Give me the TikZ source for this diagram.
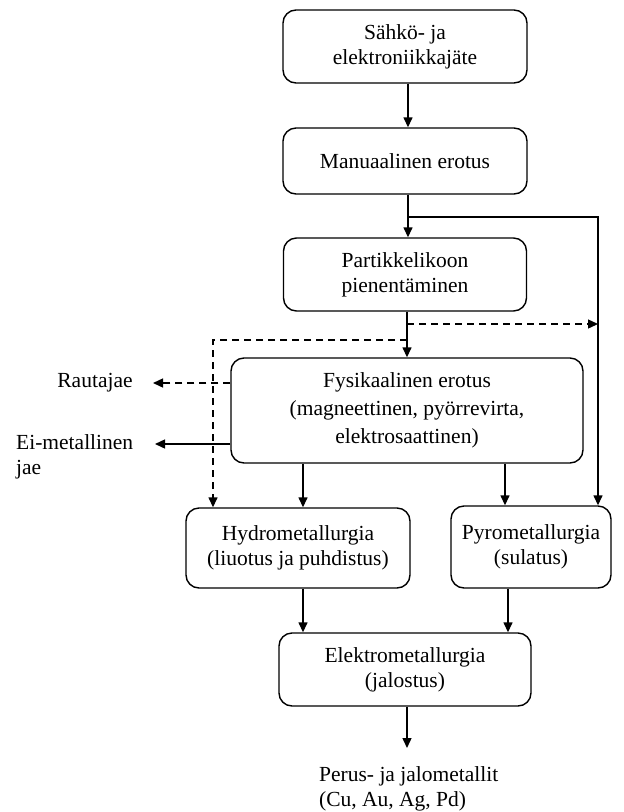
\documentclass[tikz,border=0pt]{standalone}
\usepackage{fontspec}
\setmainfont{Liberation Serif}
\usetikzlibrary{arrows.meta}
\begin{document}
\begin{tikzpicture}[x=1pt,y=-1pt,
  box/.style={draw,line width=1.4pt,rounded corners=13pt,align=center,inner sep=0pt,
    font=\fontsize{21.5}{25}\selectfont},
  lbl/.style={inner sep=0pt,font=\fontsize{21.5}{25}\selectfont},
  arr/.style={line width=1.4pt,-{Triangle[length=10pt,width=9pt]}},
  conn/.style={line width=1.4pt},
  dsh/.style={line width=1.4pt,dash pattern=on 7pt off 5pt}]
\useasboundingbox (0,0) rectangle (624,812);
\node[box,minimum width=244,minimum height=73] (b1) at (405,46.5) {Sähkö- ja\\elektroniikkajäte};
\node[box,minimum width=244,minimum height=66] (b2) at (405,161) {Manuaalinen erotus};
\node[box,minimum width=243,minimum height=73] (b3) at (405,274.5) {Partikkelikoon\\pienentäminen};
\node[box,minimum width=352,minimum height=105,font=\fontsize{21.5}{28}\selectfont] (b4) at (407,410.5) {Fysikaalinen erotus\\(magneettinen, pyörrevirta,\\elektrosaattinen)};
\node[box,minimum width=224,minimum height=80] (b5) at (298,548) {Hydrometallurgia\\(liuotus ja puhdistus)};
\node[box,minimum width=160,minimum height=82] (b6) at (531,547) {Pyrometallurgia\\(sulatus)};
\node[box,minimum width=252,minimum height=73] (b7) at (405,669.5) {Elektrometallurgia\\(jalostus)};
\node[lbl] (rauta) at (95,383) {Rautajae};
\node[lbl,anchor=west,align=left] (eimet) at (16,457) {Ei-metallinen\\jae};
\node[lbl,anchor=west,align=left] (perus) at (319,789) {Perus- ja jalometallit\\(Cu, Au, Ag, Pd)};
% helper coordinates
\coordinate (cA) at (408,217);
\coordinate (cR) at (598,217);
\coordinate (cD) at (407,324);
\coordinate (cDR) at (598,324);
\coordinate (cL) at (407,340);
\coordinate (cLL) at (213,340);
\coordinate (yR) at (153,383);
\coordinate (yE) at (155,444);
\coordinate (x303) at (303,0);
\coordinate (x505) at (505,0);
\coordinate (x508) at (508,0);
\coordinate (out) at (407,748);
% connectors
\draw[arr] (b1.south -| cA) -- (b2.north -| cA);
\draw[arr] (b2.south -| cA) -- (b3.north -| cA);
\draw[arr] (cA) -- (cR) -- (b6.north -| cR);
\draw[arr] (b3.south -| cD) -- (b4.north -| cD);
\draw[dsh,-{Triangle[length=10pt,width=9pt]}] (cD) -- (cDR);
\draw[dsh,-{Triangle[length=10pt,width=9pt]}] (cL) -- (cLL) -- (b5.north -| cLL);
\draw[dsh,-{Triangle[length=10pt,width=9pt]}] (b4.west |- yR) -- (yR);
\draw[arr] (b4.west |- yE) -- (yE);
\draw[arr] (b4.south -| x303) -- (b5.north -| x303);
\draw[arr] (b4.south -| x505) -- (b6.north -| x505);
\draw[arr] (b5.south -| x303) -- (b7.north -| x303);
\draw[arr] (b6.south -| x508) -- (b7.north -| x508);
\draw[arr] (b7.south -| out) -- (out);
\end{tikzpicture}
\end{document}
